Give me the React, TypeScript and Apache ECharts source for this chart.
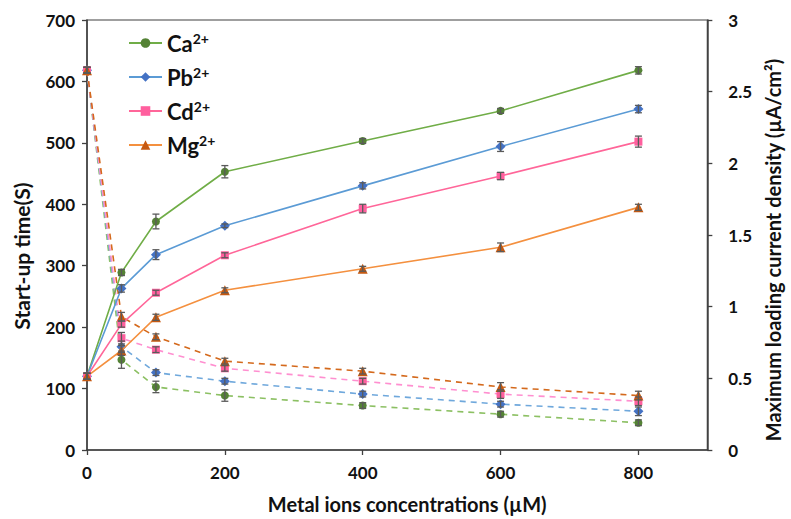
import React, { useEffect, useRef } from "react";
import * as echarts from "echarts";

const xValues = [0, 50, 100, 200, 400, 600, 800];
const xTickLabels = [0, 200, 400, 600, 800];
const ionNames = ["Ca²⁺", "Pb²⁺", "Cd²⁺", "Mg²⁺"];

// Start-up time (s), left axis
const caTime = [120, 289, 372, 453, 503, 552, 618];
const pbTime = [120, 263, 318, 365, 430, 494, 555];
const cdTime = [120, 205, 256, 317, 393, 446, 502];
const mgTime = [120, 162, 216, 260, 295, 330, 395];
const caTimeErr = [5, 5, 12, 10, 4, 4, 6];
const pbTimeErr = [5, 6, 8, 3, 5, 8, 6];
const cdTimeErr = [5, 5, 4, 4, 7, 6, 9];
const mgTimeErr = [5, 8, 5, 4, 4, 7, 5];

// Maximum loading current density (µA/cm²), right axis
const caDen = [2.65, 0.63, 0.44, 0.38, 0.31, 0.25, 0.19];
const pbDen = [2.65, 0.72, 0.54, 0.48, 0.39, 0.32, 0.27];
const cdDen = [2.65, 0.78, 0.7, 0.57, 0.48, 0.39, 0.34];
const mgDen = [2.65, 0.93, 0.79, 0.62, 0.55, 0.44, 0.38];
const caDenErr = [0.02, 0.06, 0.04, 0.04, 0.02, 0.02, 0.02];
const pbDenErr = [0.02, 0.04, 0.02, 0.02, 0.02, 0.02, 0.03];
const cdDenErr = [0.02, 0.04, 0.02, 0.02, 0.02, 0.03, 0.03];
const mgDenErr = [0.02, 0.03, 0.02, 0.02, 0.02, 0.03, 0.03];

const FONT = "Lato";
const AXIS_COLOR = "#404040";

export default function App() {
  const ref = useRef<HTMLDivElement>(null);
  useEffect(() => {
    if (!ref.current) return;
    const chart = echarts.init(ref.current, undefined, { renderer: "svg" });

    const styles = [
      { line: "#70ad47", marker: "#548235", dash: "#8cc063", symbol: "circle", size: 8 },
      { line: "#5b9bd5", marker: "#4472c4", dash: "#6fa8dc", symbol: "diamond", size: 10 },
      { line: "#ff6699", marker: "#ff5f9e", dash: "#ff8fd0", symbol: "rect", size: 8 },
      { line: "#f4903f", marker: "#c65911", dash: "#d4691c", symbol: "triangle", size: 10 },
    ];
    const times = [caTime, pbTime, cdTime, mgTime];
    const timeErrs = [caTimeErr, pbTimeErr, cdTimeErr, mgTimeErr];
    const dens = [caDen, pbDen, cdDen, mgDen];
    const denErrs = [caDenErr, pbDenErr, cdDenErr, mgDenErr];

    const errRender = (params: any, api: any) => {
      const x = api.value(0);
      const lo = api.coord([x, api.value(1)]);
      const hi = api.coord([x, api.value(2)]);
      const w = 3.5;
      const st = { stroke: "#5a5a5a", lineWidth: 1.3 };
      return {
        type: "group",
        children: [
          { type: "line", shape: { x1: lo[0], y1: lo[1], x2: hi[0], y2: hi[1] }, style: st },
          { type: "line", shape: { x1: lo[0] - w, y1: lo[1], x2: lo[0] + w, y2: lo[1] }, style: st },
          { type: "line", shape: { x1: hi[0] - w, y1: hi[1], x2: hi[0] + w, y2: hi[1] }, style: st },
        ],
      };
    };

    const series: any[] = [];
    ionNames.forEach((name, k) => {
      const s = styles[k];
      series.push({
        name,
        type: "line",
        yAxisIndex: 0,
        data: xValues.map((x, i) => [x, times[k][i]]),
        symbol: s.symbol,
        symbolSize: s.size,
        lineStyle: { color: s.line, width: 1.6 },
        itemStyle: { color: s.marker },
        z: 4,
      });
    });
    ionNames.forEach((name, k) => {
      const s = styles[k];
      series.push({
        name,
        type: "line",
        yAxisIndex: 1,
        data: xValues.map((x, i) => [x, dens[k][i]]),
        symbol: s.symbol,
        symbolSize: s.size,
        lineStyle: { color: s.dash, width: 1.6, type: [6, 5] },
        itemStyle: { color: s.marker },
        z: 3,
      });
    });
    ionNames.forEach((name, k) => {
      series.push({
        type: "custom",
        yAxisIndex: 0,
        renderItem: errRender,
        data: xValues.map((x, i) => [x, times[k][i] - timeErrs[k][i], times[k][i] + timeErrs[k][i]]),
        encode: { x: 0, y: [1, 2] },
        z: 5,
        silent: true,
      });
      series.push({
        type: "custom",
        yAxisIndex: 1,
        renderItem: errRender,
        data: xValues.map((x, i) => [x, dens[k][i] - denErrs[k][i], dens[k][i] + denErrs[k][i]]),
        encode: { x: 0, y: [1, 2] },
        z: 5,
        silent: true,
      });
    });

    const labelStyle = { fontFamily: FONT, fontWeight: "bold" as const, fontSize: 17, color: "#111" };

    chart.setOption({
      animation: false,
      backgroundColor: "#fff",
      grid: { left: 87, right: 74, top: 20, bottom: 65, show: true, borderColor: AXIS_COLOR, borderWidth: 1.2, backgroundColor: "transparent" },
      legend: {
        data: ionNames,
        orient: "vertical",
        left: 128,
        top: 31,
        padding: 0,
        itemWidth: 33,
        itemHeight: 12,
        itemGap: 11,
        formatter: (n: string) => `{a|${n.slice(0, 2)}}{b|2+}`,
        textStyle: {
          rich: {
            a: { fontFamily: FONT, fontWeight: "bold", fontSize: 22, color: "#111", lineHeight: 24 },
            b: { fontFamily: FONT, fontWeight: "bold", fontSize: 14, color: "#111", verticalAlign: "top", lineHeight: 14 },
          },
        },
      },
      xAxis: {
        type: "value",
        min: 0,
        max: 900,
        interval: 200,
        name: "Metal ions concentrations (µM)",
        nameLocation: "middle",
        nameGap: 44,
        nameTextStyle: { ...labelStyle, fontSize: 20, padding: [0, 0, 0, 20] },
        axisLine: { show: true, lineStyle: { color: AXIS_COLOR, width: 1.5 } },
        axisTick: { show: true, length: 5, customValues: xTickLabels, lineStyle: { color: AXIS_COLOR, width: 1.3 } },
        axisLabel: { ...labelStyle, margin: 14, customValues: xTickLabels },
        splitLine: { show: false },
      },
      yAxis: [
        {
          type: "value",
          min: 0,
          max: 700,
          interval: 100,
          name: "Start-up time(S)",
          nameLocation: "middle",
          nameGap: 55,
          nameTextStyle: { ...labelStyle, fontSize: 21, padding: [0, 42, 0, 0] },
          axisLine: { show: true, lineStyle: { color: AXIS_COLOR, width: 1.5 } },
          axisTick: { show: true, length: 5, lineStyle: { color: AXIS_COLOR, width: 1.3 } },
          axisLabel: { ...labelStyle, margin: 12 },
          splitLine: { show: false },
        },
        {
          type: "value",
          min: 0,
          max: 3,
          interval: 0.5,
          position: "right",
          name: "Maximum loading current density (µA/cm²)",
          nameLocation: "middle",
          nameGap: 55,
          nameRotate: 90,
          nameTextStyle: { ...labelStyle, fontSize: 20, padding: [0, 30, 0, 0] },
          axisLine: { show: true, lineStyle: { color: AXIS_COLOR, width: 1.5 } },
          axisTick: { show: true, length: 5, lineStyle: { color: AXIS_COLOR, width: 1.3 } },
          axisLabel: { ...labelStyle, margin: 21 },
          splitLine: { show: false },
        },
      ],
      series,
    });
    return () => chart.dispose();
  }, []);
  return <div ref={ref} style={{ position: "fixed", left: 0, top: 0, width: 791, height: 519 }} />;
}
